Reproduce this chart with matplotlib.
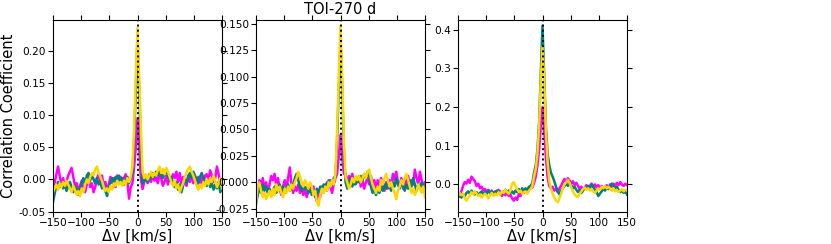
import numpy as np
import matplotlib
matplotlib.use('Agg')
import matplotlib.pyplot as plt

# velocity grid (km/s)
dv = np.arange(-150, 151, 3)

# panel 1
p1_magenta = [-0.010, -0.005, 0.008, 0.020, 0.005, -0.008, 0.002, -0.012, -0.004, 0.006,
              0.012, 0.018, 0.004, -0.010, -0.006, -0.018, -0.010, -0.002, -0.015, -0.020,
              -0.008, 0.004, -0.012, -0.006, -0.020, -0.012, 0.002, 0.008, -0.004, 0.006,
              -0.010, -0.004, -0.016, -0.008, 0.004, -0.006, 0.002, -0.012, 0.006, -0.002,
              0.004, -0.008, 0.002, 0.008, -0.004, -0.030, -0.012, -0.006, 0.020, 0.050,
              0.095,
              0.050, 0.000, -0.015, -0.004, 0.004, -0.006, 0.002, -0.004, 0.006, -0.002,
              0.004, -0.006, 0.008, 0.002, -0.010, -0.004, 0.006, -0.008, 0.004, -0.002,
              0.008, 0.002, 0.012, -0.004, 0.010, -0.008, 0.004, -0.002, -0.010, 0.006,
              -0.004, 0.010, -0.006, 0.002, -0.008, 0.004, -0.010, 0.002, -0.006, 0.006,
              0.008, -0.002, 0.014, 0.006, -0.004, 0.002, 0.020, 0.008, -0.006, -0.004]
p1_teal = [-0.035, -0.022, -0.010, -0.004, -0.012, -0.006, -0.014, -0.008, -0.018, -0.010,
           -0.004, -0.012, -0.020, -0.010, -0.016, -0.024, -0.014, -0.006, 0.002, -0.008,
           0.006, 0.010, -0.002, 0.008, 0.000, -0.006, 0.002, -0.008, -0.004, -0.014,
           -0.008, -0.018, -0.026, -0.012, -0.004, 0.002, -0.006, 0.004, -0.002, 0.006,
           -0.004, 0.002, -0.008, -0.002, 0.004, -0.006, 0.002, 0.010, 0.060, 0.140,
           0.220,
           0.140, 0.050, -0.006, -0.002, 0.004, -0.004, 0.008, 0.002, 0.010, 0.004,
           0.012, 0.006, 0.014, 0.008, 0.002, 0.010, 0.016, 0.006, -0.002, 0.004,
           -0.006, -0.012, -0.004, -0.016, -0.008, -0.020, -0.010, 0.000, -0.006, 0.004,
           0.010, 0.002, 0.012, 0.006, 0.000, -0.006, 0.004, 0.010, 0.002, -0.004,
           -0.010, -0.002, -0.012, -0.006, -0.016, -0.008, -0.014, -0.004, -0.020, -0.012]
p1_yellow = [-0.020, -0.014, -0.008, -0.016, -0.006, -0.012, -0.004, -0.010, -0.002, -0.008,
             -0.014, -0.020, -0.010, -0.016, -0.024, -0.018, -0.026, -0.014, -0.020, -0.008,
             0.000, -0.006, 0.004, 0.010, 0.006, 0.016, 0.020, 0.010, 0.004, -0.002,
             -0.012, -0.018, -0.014, -0.020, -0.010, -0.016, -0.006, -0.010, -0.002, -0.008,
             -0.004, -0.010, -0.002, -0.008, 0.002, -0.004, 0.004, 0.020, 0.080, 0.160,
             0.236,
             0.160, 0.080, 0.012, 0.002, 0.008, 0.000, 0.006, 0.012, 0.004, 0.010,
             0.006, 0.014, 0.020, 0.010, 0.016, 0.008, 0.018, 0.012, 0.004, -0.004,
             -0.010, -0.002, -0.014, -0.008, -0.020, -0.012, -0.006, 0.004, 0.010, 0.016,
             0.020, 0.012, 0.006, -0.002, -0.010, -0.016, -0.008, -0.014, -0.004, -0.010,
             0.000, -0.008, 0.002, -0.004, 0.006, -0.002, -0.012, -0.006, 0.002, -0.014]

# panel 2
p2_magenta = [-0.008, -0.012, 0.002, -0.004, 0.004, -0.006, 0.000, -0.010, -0.002, 0.006,
              0.002, 0.008, -0.004, 0.004, -0.006, -0.012, -0.004, 0.002, -0.006, 0.004,
              0.014, -0.002, -0.010, -0.004, -0.008, -0.002, -0.010, -0.004, -0.012, -0.006,
              -0.014, -0.008, -0.002, -0.010, -0.004, -0.012, -0.018, -0.008, -0.014, -0.004,
              -0.010, -0.002, -0.008, 0.002, -0.004, -0.010, -0.002, 0.004, 0.008, 0.025,
              0.045,
              0.025, 0.008, 0.008, -0.002, 0.006, 0.002, 0.008, -0.002, 0.004, 0.000,
              0.006, -0.004, 0.002, -0.006, 0.000, 0.004, -0.002, 0.006, -0.004, 0.002,
              -0.006, 0.002, -0.004, 0.004, -0.002, -0.008, 0.000, -0.006, 0.002, -0.004,
              0.008, 0.002, 0.010, 0.000, -0.004, 0.004, -0.006, 0.002, -0.002, 0.006,
              -0.004, 0.002, -0.002, 0.012, 0.004, -0.002, 0.010, 0.002, -0.004, 0.000]
p2_teal = [-0.020, -0.012, -0.004, -0.010, -0.002, -0.008, -0.004, -0.010, -0.006, -0.012,
           -0.008, -0.004, -0.010, -0.006, -0.002, -0.008, -0.004, -0.010, -0.006, -0.002,
           -0.008, -0.004, -0.002, 0.004, 0.008, 0.002, -0.004, -0.008, -0.002, -0.006,
           -0.004, -0.010, -0.006, -0.012, -0.008, -0.014, -0.006, -0.010, -0.004, -0.008,
           -0.002, -0.006, 0.000, -0.004, 0.002, -0.002, 0.004, 0.006, 0.040, 0.090,
           0.135,
           0.090, 0.030, 0.000, -0.006, -0.002, 0.004, -0.004, 0.002, -0.002, 0.004,
           0.000, 0.006, 0.002, 0.008, 0.004, 0.010, 0.006, -0.004, -0.010, -0.006,
           -0.012, -0.006, -0.010, -0.004, -0.008, -0.002, -0.006, 0.000, -0.004, -0.008,
           0.000, -0.004, 0.004, -0.002, -0.006, 0.002, -0.004, -0.008, -0.002, -0.006,
           0.002, -0.004, 0.004, -0.002, -0.008, -0.002, -0.006, 0.000, -0.004, -0.010]
p2_yellow = [-0.020, -0.004, 0.000, -0.008, -0.014, -0.010, -0.016, -0.012, -0.008, -0.014,
             -0.006, -0.012, -0.002, -0.008, -0.004, -0.010, -0.014, -0.006, -0.010, -0.004,
             -0.008, -0.002, -0.006, 0.000, 0.004, 0.010, 0.006, 0.000, -0.004, 0.002,
             -0.002, -0.006, 0.000, -0.004, -0.012, -0.008, -0.018, -0.022, -0.012, -0.006,
             -0.010, -0.004, -0.008, 0.000, -0.004, 0.002, -0.002, 0.008, 0.050, 0.100,
             0.148,
             0.100, 0.040, 0.005, 0.000, -0.006, -0.002, 0.004, 0.000, 0.006, 0.002,
             0.006, 0.000, 0.004, 0.008, 0.004, 0.010, 0.012, 0.004, -0.002, -0.006,
             -0.010, -0.004, -0.008, 0.002, -0.002, 0.004, 0.008, 0.002, -0.004, 0.000,
             -0.006, -0.010, -0.016, -0.008, -0.004, 0.002, -0.002, 0.004, 0.008, 0.002,
             -0.004, -0.010, -0.006, -0.012, -0.008, -0.002, -0.006, -0.010, -0.004, -0.014]

# panel 3
p3_magenta = [-0.035, -0.028, -0.018, -0.004, 0.006, 0.002, 0.012, 0.004, 0.020, 0.014,
              0.008, -0.004, 0.002, -0.010, -0.006, -0.016, -0.012, -0.020, -0.014, -0.022,
              -0.016, -0.024, -0.018, -0.022, -0.014, -0.024, -0.030, -0.022, -0.028, -0.020,
              -0.030, -0.026, -0.036, -0.042, -0.034, -0.040, -0.024, -0.030, -0.018, -0.022,
              -0.012, -0.020, -0.014, -0.004, -0.008, 0.004, 0.020, 0.050, 0.090, 0.150,
              0.200,
              0.140, 0.070, 0.020, -0.004, -0.010, -0.006, -0.016, -0.012, -0.020, -0.010,
              -0.004, 0.006, 0.014, 0.004, 0.016, 0.010, 0.002, 0.008, -0.002, 0.004,
              -0.004, -0.012, -0.006, -0.014, -0.008, -0.002, -0.010, -0.004, 0.002, -0.006,
              0.000, -0.008, -0.002, -0.010, -0.004, -0.012, -0.006, -0.002, -0.008, 0.000,
              -0.006, 0.002, -0.004, 0.004, -0.002, 0.006, 0.000, -0.004, 0.002, -0.002]
p3_teal = [-0.020, -0.028, -0.034, -0.026, -0.030, -0.022, -0.018, -0.024, -0.016, -0.022,
           -0.026, -0.020, -0.028, -0.022, -0.018, -0.026, -0.020, -0.024, -0.016, -0.022,
           -0.018, -0.024, -0.020, -0.016, -0.022, -0.018, -0.024, -0.020, -0.014, -0.020,
           -0.016, -0.022, -0.018, -0.024, -0.016, -0.020, -0.012, -0.018, -0.010, -0.016,
           -0.010, -0.014, -0.006, -0.004, 0.004, 0.030, 0.050, 0.090, 0.160, 0.290,
           0.410,
           0.280, 0.150, 0.080, 0.050, 0.030, 0.020, 0.008, -0.006, -0.018, -0.026,
           -0.016, -0.010, -0.004, 0.002, -0.004, 0.004, -0.002, -0.010, -0.006, -0.014,
           -0.020, -0.014, -0.022, -0.016, -0.008, -0.012, -0.004, -0.010, 0.000, -0.006,
           -0.014, -0.020, -0.030, -0.024, -0.018, -0.012, -0.016, -0.008, -0.012, -0.004,
           0.002, -0.004, -0.010, -0.006, -0.014, -0.020, -0.016, -0.022, -0.018, -0.026]
p3_yellow = [-0.030, -0.022, -0.028, -0.024, -0.036, -0.042, -0.034, -0.028, -0.020, -0.026,
             -0.018, -0.024, -0.030, -0.026, -0.034, -0.028, -0.024, -0.030, -0.036, -0.028,
             -0.022, -0.030, -0.024, -0.028, -0.020, -0.026, -0.018, -0.022, -0.014, -0.020,
             -0.024, -0.016, 0.002, 0.006, -0.004, -0.012, -0.020, -0.016, -0.024, -0.020,
             -0.018, -0.024, -0.016, -0.012, -0.004, 0.020, 0.040, 0.080, 0.150, 0.270,
             0.355,
             0.270, 0.140, 0.060, 0.010, -0.012, -0.024, -0.034, -0.042, -0.046, -0.036,
             -0.024, -0.010, 0.000, 0.006, 0.012, 0.004, -0.008, -0.018, -0.026, -0.030,
             -0.032, -0.024, -0.018, -0.012, -0.008, -0.014, -0.010, -0.016, -0.012, -0.018,
             -0.022, -0.016, -0.010, -0.014, -0.006, -0.010, -0.004, -0.010, -0.006, -0.012,
             -0.016, -0.010, -0.018, -0.014, -0.020, -0.016, -0.012, -0.018, -0.014, -0.016]

panels = [(p1_magenta, p1_teal, p1_yellow), (p2_magenta, p2_teal, p2_yellow), (p3_magenta, p3_teal, p3_yellow)]
ylims = [(-0.05, 0.249), (-0.0276, 0.154), (-0.07, 0.426)]
yticks = [[-0.05, 0.0, 0.05, 0.10, 0.15, 0.20],
          [-0.025, 0.0, 0.025, 0.05, 0.075, 0.10, 0.125, 0.15],
          [0.0, 0.1, 0.2, 0.3, 0.4]]
yfmt = ['%.2f', '%.3f', '%.1f']
lefts = [53, 256, 458]

fig = plt.figure(figsize=(8.31, 2.44), dpi=100)
for i, (mag, teal, yel) in enumerate(panels):
    ax = fig.add_axes([lefts[i] / 831, 1 - 211.5 / 244, 169 / 831, 192 / 244])
    ax.plot(dv, mag, color='magenta', lw=1.8)
    ax.plot(dv, teal, color='teal', lw=1.8)
    ax.plot(dv, yel, color='gold', lw=1.8)
    ax.axvline(0, color='black', ls=':', lw=1.4)
    ax.set_xlim(-150, 150)
    ax.set_ylim(*ylims[i])
    ax.set_xticks([-150, -100, -50, 0, 50, 100, 150])
    ax.set_yticks(yticks[i])
    ax.yaxis.set_major_formatter(matplotlib.ticker.FormatStrFormatter(yfmt[i]))
    ax.tick_params(top=True, right=True, labelsize=7.6, length=3.5, pad=1.5)
    ax.set_xlabel('Δv [km/s]', fontsize=10.5, labelpad=0)
    if i == 0:
        ax.set_ylabel('Correlation Coefficient', fontsize=10.5, labelpad=2)
    if i == 1:
        ax.set_title('TOI-270 d', fontsize=10.5, pad=4)

plt.savefig('out.png', dpi=100)
